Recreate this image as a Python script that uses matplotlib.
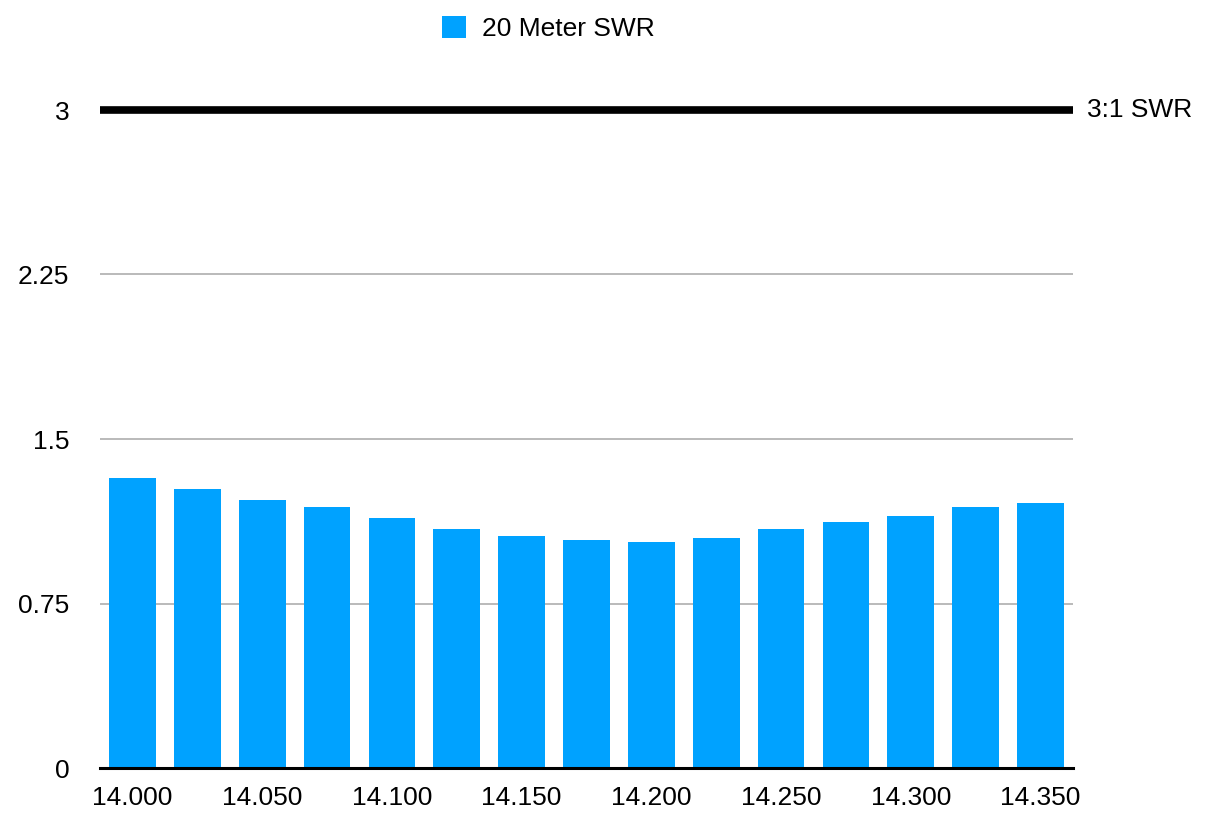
import matplotlib
matplotlib.use("Agg")
import matplotlib.pyplot as plt
import numpy as np

plt.rcParams['font.family'] = ['Liberation Sans', 'DejaVu Sans']

# data
freqs = ['14.000', '14.025', '14.050', '14.075', '14.100', '14.125', '14.150', '14.175',
         '14.200', '14.225', '14.250', '14.275', '14.300', '14.325', '14.350']
swr = [1.32, 1.27, 1.22, 1.19, 1.14, 1.09, 1.06, 1.04, 1.03, 1.05, 1.09, 1.12, 1.15, 1.19, 1.21]
yticks = [0, 0.75, 1.5, 2.25, 3]
ytick_labels = ['0', '0.75', '1.5', '2.25', '3']
limit = 3

fig = plt.figure(figsize=(12.17, 8.22), dpi=100)
ax = fig.add_axes([100 / 1217, 54 / 822, 973 / 1217, 658 / 822])

x = np.arange(len(freqs))
ax.bar(x, swr, width=0.72, color='#00a2ff', label='20 Meter SWR', zorder=3)

ax.set_xlim(-0.5, len(freqs) - 0.5)
ax.set_ylim(0, limit)
ax.set_yticks(yticks)
ax.set_yticklabels(ytick_labels)
ax.set_xticks(x[::2])
ax.set_xticklabels(freqs[::2])
ax.tick_params(axis='both', length=0, labelsize=19)
ax.tick_params(axis='y', pad=22)
ax.tick_params(axis='x', pad=13)

for v in yticks[1:-1]:
    ax.axhline(v, color='#b4b4b4', lw=1.3, zorder=1)

# 3:1 SWR reference line
ax.axhline(limit, color='black', lw=5.5, zorder=4, clip_on=False,
           solid_capstyle='butt')
ax.text(1.014, limit, '3:1 SWR', transform=ax.get_yaxis_transform(),
        ha='left', va='center', fontsize=19)

for s in ['top', 'right', 'left']:
    ax.spines[s].set_visible(False)
ax.spines['bottom'].set_linewidth(2.2)
ax.spines['bottom'].set_zorder(5)

leg = fig.legend(loc='lower left', bbox_to_anchor=(442 / 1217, 1 - 41 / 822),
                 frameon=False, fontsize=19, handlelength=0.9, handleheight=0.9,
                 handletextpad=0.6, borderpad=0, borderaxespad=0)

fig.savefig('out.png', dpi=100)
